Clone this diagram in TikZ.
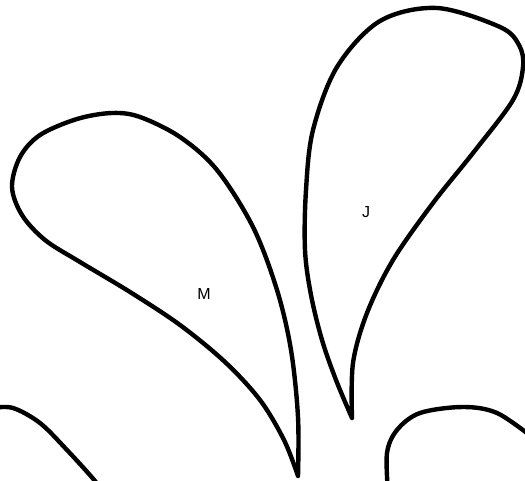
\documentclass[tikz,border=0pt]{standalone}
\usepackage{fontspec}
\setmainfont{Liberation Sans}
\usepackage{tikz}

\tikzset{
  petal/.style={draw=black, line width=4.4pt, line join=round, line cap=round},
  petallabel/.style={font=\fontsize{16}{18}\selectfont, inner sep=0pt}
}

\begin{document}
\begin{tikzpicture}[x=1pt, y=-1pt]
                \clip (0,0) rectangle (525,481);

                % Petals
                \draw[petal] plot[smooth, tension=0.55] coordinates {(298,476) (298,417) (291,350) (277,290) (253,227) (217,170) (180,137) (140,117) (112,113) (77,119) (40,135) (20,157) (12,187) (22,215) (45,240) (80,262) (130,292) (180,325) (225,362) (260,400) (284,440) (298,476)};
                \draw[petal] plot[smooth, tension=0.55] coordinates {(352,418) (336,380) (322,340) (311,295) (305,250) (306,190) (313,130) (337,67) (380,21) (437,8) (500,27) (519,45) (523,67) (513,100) (473,153) (433,203) (393,260) (367,313) (353,363) (352,418)};
                \draw[petal] plot[smooth, tension=0.55] coordinates {(-8,408) (13,408) (40,423) (67,450) (95,481) (101,492)};
                \draw[petal] plot[smooth, tension=0.55] coordinates {(388,492) (387,453) (397,430) (420,413) (463,407) (497,413) (532,437)};

                % Labels
                \node[petallabel] (m) at (204,294) {M};
                \node[petallabel] (j) at (366,212) {J};
            \end{tikzpicture}
\end{document}
